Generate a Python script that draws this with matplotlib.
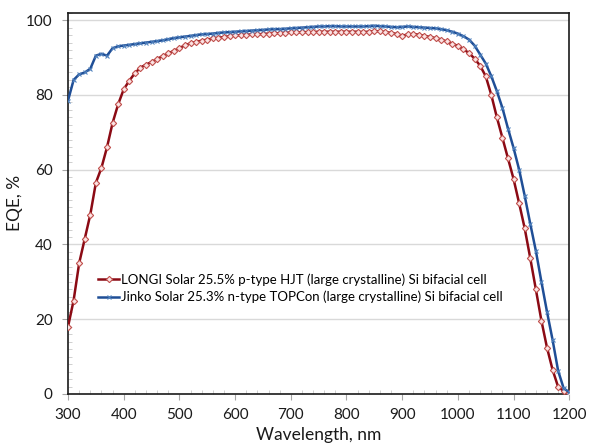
import numpy as np
import matplotlib.pyplot as plt
from matplotlib.ticker import MultipleLocator

plt.rcParams['font.family'] = ['Lato', 'DejaVu Sans']

wavelength = list(range(300, 1201, 10))

longi_eqe = [
    18.0, 25.0, 35.0, 41.5, 48.0, 56.5, 60.5, 66.0, 72.5, 77.5,
    81.5, 83.8, 85.8, 87.3, 88.1, 88.8, 89.6, 90.4, 91.1, 91.8,
    92.5, 93.3, 93.8, 94.2, 94.5, 94.8, 95.1, 95.3, 95.5, 95.7,
    95.9, 96.0, 96.1, 96.2, 96.2, 96.3, 96.4, 96.5, 96.5, 96.6,
    96.7, 96.7, 96.8, 96.8, 96.8, 96.9, 96.9, 96.9, 96.9, 96.9,
    96.9, 96.9, 96.9, 96.8, 96.9, 97.1, 97.0, 96.8, 96.6, 96.3,
    95.8, 96.2, 96.3, 96.1, 95.8, 95.5, 95.2, 94.8, 94.3, 93.7,
    93.1, 92.2, 91.2, 89.7, 87.8, 85.0, 80.0, 74.0, 68.5, 63.0,
    57.5, 51.0, 44.3, 36.3, 28.0, 19.6, 12.4, 6.5, 1.9, 0.8,
    0.3,
]

jinko_eqe = [
    78.5, 84.0, 85.5, 86.0, 87.0, 90.5, 91.0, 90.5, 92.5, 93.0,
    93.2, 93.4, 93.6, 93.8, 94.0, 94.2, 94.4, 94.6, 94.9, 95.2,
    95.4, 95.6, 95.8, 96.0, 96.2, 96.3, 96.4, 96.6, 96.7, 96.8,
    96.9, 97.0, 97.1, 97.2, 97.3, 97.4, 97.5, 97.6, 97.6, 97.7,
    97.8, 97.9, 98.0, 98.1, 98.2, 98.3, 98.3, 98.4, 98.4, 98.3,
    98.3, 98.3, 98.3, 98.3, 98.4, 98.5, 98.4, 98.3, 98.2, 98.1,
    98.2, 98.3, 98.2, 98.1, 98.0, 97.9, 97.8, 97.6, 97.3, 96.9,
    96.4, 95.7, 94.8, 93.2, 90.8, 88.4, 85.0, 81.0, 76.5, 71.0,
    65.8, 60.0, 53.0, 45.5, 38.3, 30.0, 22.0, 14.5, 6.2, 1.5,
    0.5,
]

labels = [
    "LONGI Solar 25.5% p-type HJT (large crystalline) Si bifacial cell",
    "Jinko Solar 25.3% n-type TOPCon (large crystalline) Si bifacial cell",
]

fig = plt.figure(figsize=(5.89, 4.46), dpi=100)
ax = fig.add_axes([0.1155, 0.1166, 0.851, 0.855])

ax.plot(wavelength, longi_eqe, color='#8B0A14', lw=1.8, marker='D', ms=3.2,
        mfc='#FBE3E3', mec='#C0504D', mew=0.8, label=labels[0], zorder=3)
ax.plot(wavelength, jinko_eqe, color='#1F4E96', lw=1.8, marker='x', ms=3.5,
        mec='#4F81BD', mew=0.8, label=labels[1], zorder=3)

ax.set_xlim(300, 1200)
ax.set_ylim(0, 102)
ax.xaxis.set_major_locator(MultipleLocator(100))
ax.xaxis.set_minor_locator(MultipleLocator(20))
ax.yaxis.set_major_locator(MultipleLocator(20))
ax.yaxis.set_minor_locator(MultipleLocator(2))
ax.grid(axis='y', which='major', color='#D9D9D9', lw=1)
ax.set_axisbelow(True)

ax.tick_params(axis='x', which='major', direction='out', length=4,
               color='#A6A6A6', labelsize=11, labelcolor='#1a1a1a', pad=6)
ax.tick_params(axis='y', which='major', direction='out', length=4,
               color='#A6A6A6', labelsize=11, labelcolor='#1a1a1a', pad=7)
ax.tick_params(which='minor', direction='in', length=3, color='#C8C8C8')
for s in ax.spines.values():
    s.set_color('#1a1a1a')
    s.set_linewidth(1.2)

ax.set_xlabel('Wavelength, nm', fontsize=12.5, color='#1a1a1a')
ax.set_ylabel('EQE, %', fontsize=12.5, color='#1a1a1a')
ax.xaxis.set_label_coords(0.5, -0.087)
ax.yaxis.set_label_coords(-0.09, 0.5)

ax.legend(loc='upper left', bbox_to_anchor=(0.05, 0.33), frameon=False,
          fontsize=9.5, handlelength=1.6, handletextpad=0.1, labelspacing=0.35,
          borderaxespad=0)

fig.savefig('out.png', dpi=100)
